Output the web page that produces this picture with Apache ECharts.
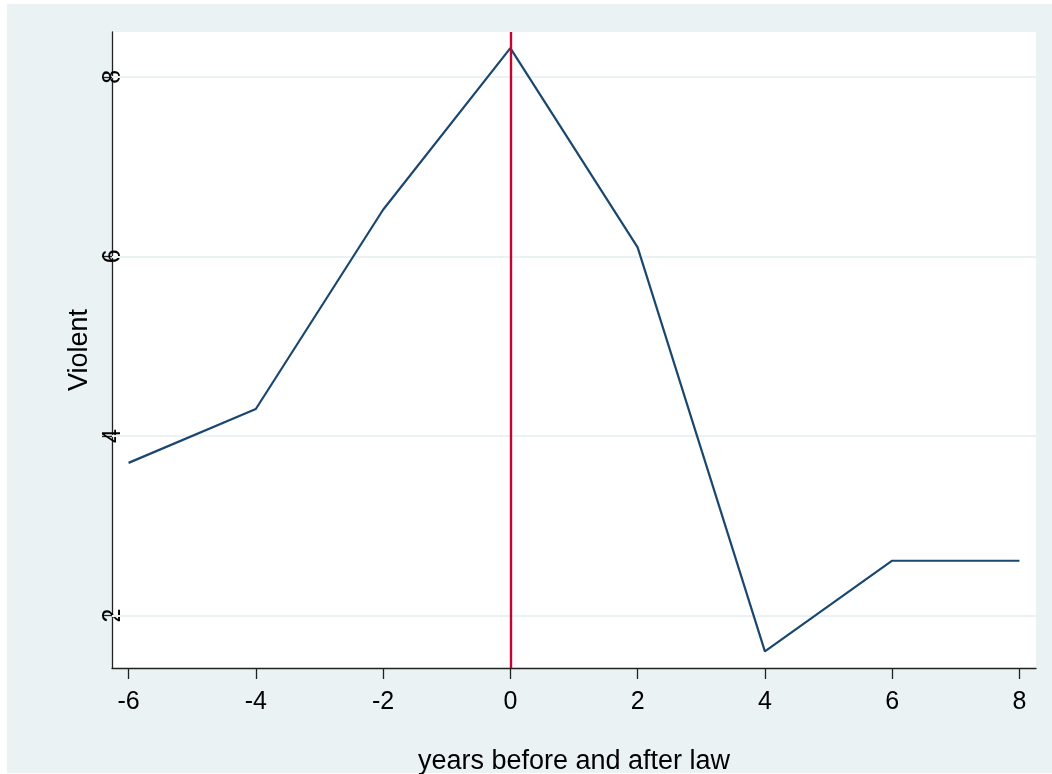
<!DOCTYPE html>
<html>
<head>
<meta charset="utf-8">
<script src="https://cdn.jsdelivr.net/npm/echarts@6/dist/echarts.min.js"></script>
<style>
html,body{margin:0;padding:0;background:#fff;}
#bg{position:absolute;left:7px;top:4px;width:1045px;height:769px;background:#EAF2F3;}
#chart{position:absolute;left:0;top:0;width:1052px;height:774px;}
</style>
</head>
<body>
<div id="bg"></div>
<div id="chart"></div>
<script>
const years = [-6, -4, -2, 0, 2, 4, 6, 8];
const violent = [3.70, 4.30, 6.52, 8.32, 6.10, 1.60, 2.61, 2.61];
const xTicks = [-6, -4, -2, 0, 2, 4, 6, 8];
const yTicks = [2, 4, 6, 8];
const lawYear = 0;

const chart = echarts.init(document.getElementById('chart'), null, {renderer: 'canvas'});
const font = 'Liberation Sans, Arial, sans-serif';
chart.setOption({
  backgroundColor: 'transparent',
  animation: false,
  grid: {left: 112, top: 32, width: 924, height: 636, show: true, backgroundColor: '#fff', borderWidth: 0,
         containLabel: false, outerBoundsMode: 'none'},
  xAxis: {
    type: 'value', min: -6.26, max: 8.26,
    name: 'years before and after law', nameLocation: 'middle', nameGap: 80,
    nameTextStyle: {fontSize: 27, color: '#000', fontFamily: font},
    axisLine: {show: true, onZero: false, lineStyle: {color: '#222', width: 1.3}},
    axisTick: {show: true, length: 11, customValues: xTicks, lineStyle: {color: '#222', width: 1.3}},
    axisLabel: {customValues: xTicks, fontSize: 25, color: '#000', margin: 22, fontFamily: font},
    splitLine: {show: false}
  },
  yAxis: {
    type: 'value', min: 1.415, max: 8.5,
    name: 'Violent', nameLocation: 'middle', nameGap: 9, nameRotate: 90,
    nameTextStyle: {fontSize: 27, color: '#000', fontFamily: font},
    axisLine: {show: true, onZero: false, lineStyle: {color: '#222', width: 1.3}},
    axisTick: {show: true, length: 10, customValues: yTicks, lineStyle: {color: '#222', width: 1.3}},
    axisLabel: {customValues: yTicks, rotate: 90, fontSize: 25, color: '#000', margin: -14, fontFamily: font,
                overflow: 'none', width: 100},
    splitLine: {show: false}
  },
  series: [
    {
      type: 'line', data: [], z: 1, silent: true,
      markLine: {
        z: 1, silent: true, symbol: 'none', label: {show: false},
        lineStyle: {color: '#EAF2F3', width: 2, type: 'solid'},
        data: yTicks.map(v => ({yAxis: v}))
      }
    },
    {
      type: 'line', z: 3,
      data: years.map((x, i) => [x, violent[i]]),
      showSymbol: false, symbol: 'none',
      lineStyle: {color: '#1A476F', width: 2.2},
      itemStyle: {color: '#1A476F'}
    },
    {
      type: 'line', data: [], z: 4, silent: true,
      markLine: {
        z: 5, silent: true, symbol: 'none', label: {show: false},
        lineStyle: {color: '#C10534', width: 2.4, type: 'solid'},
        data: [{xAxis: lawYear}]
      }
    }
  ]
});
</script>
</body>
</html>
